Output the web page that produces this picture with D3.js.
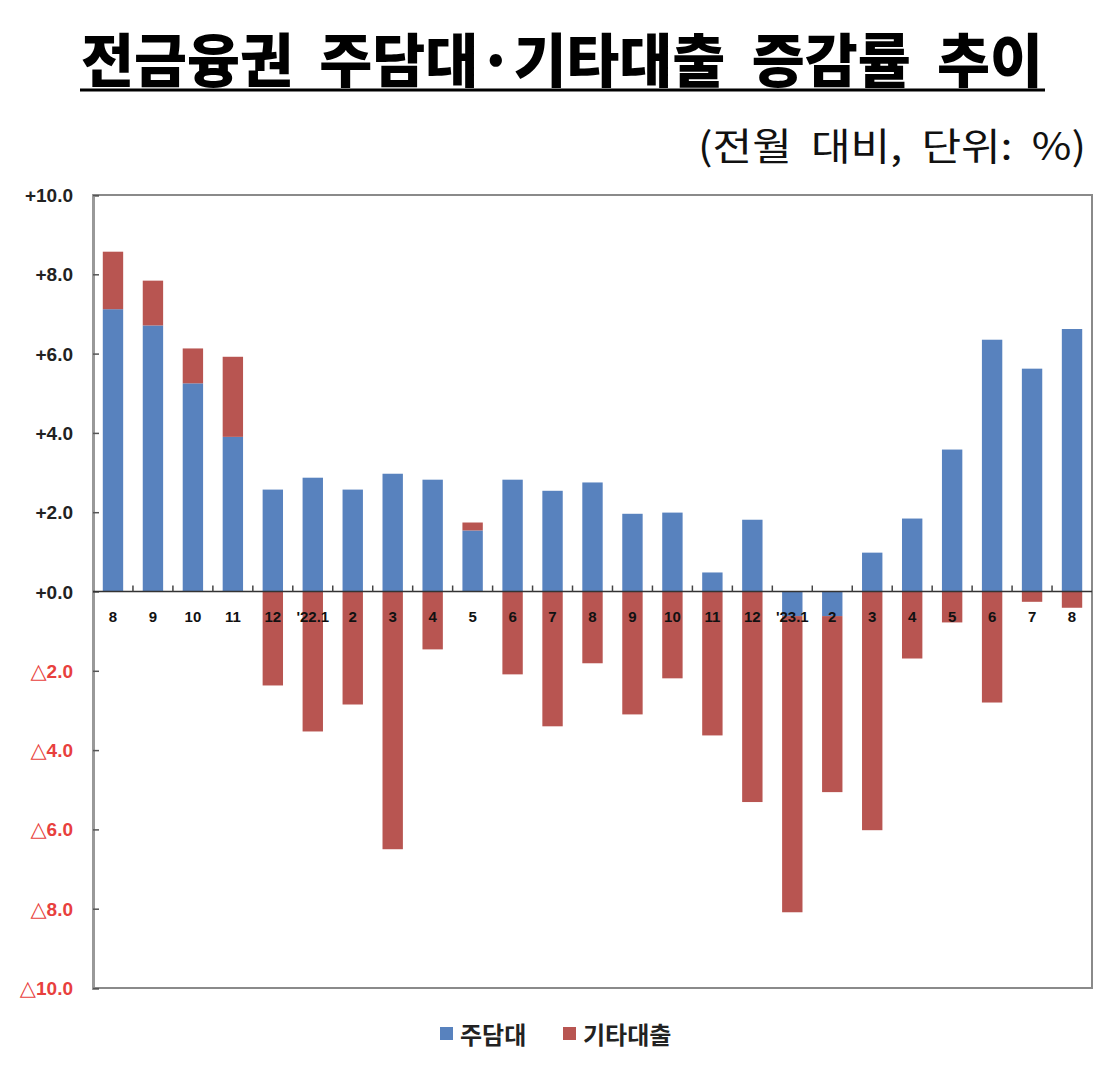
<!DOCTYPE html>
<html>
<head>
<meta charset="utf-8">
<script src="https://cdn.jsdelivr.net/npm/d3@7/dist/d3.min.js"></script>
<style>
  html, body { margin: 0; padding: 0; background: #fff; }
  svg { display: block; }
  .pre { white-space: pre; }
</style>
</head>
<body>
<svg id="chart" width="1120" height="1076"></svg>
<script>
// ---- data ----
const categories = ["8","9","10","11","12","'22.1","2","3","4","5","6","7","8","9","10","11","12","'23.1","2","3","4","5","6","7","8"];
const mortgage = [7.12, 6.71, 5.25, 3.90, 2.57, 2.87, 2.57, 2.97, 2.82, 1.54, 2.82, 2.54, 2.75, 1.96, 1.99, 0.48, 1.81, -0.62, -0.62, 0.98, 1.84, 3.58, 6.35, 5.62, 6.62];
const otherLoans = [1.45, 1.13, 0.88, 2.02, -2.37, -3.53, -2.85, -6.50, -1.46, 0.20, -2.09, -3.40, -1.81, -3.10, -2.19, -3.63, -5.31, -7.47, -4.44, -6.02, -1.69, -0.78, -2.80, -0.26, -0.41];
const seriesNames = ["주담대", "기타대출"];
const yTicks = [10, 8, 6, 4, 2, 0, -2, -4, -6, -8, -10];
const titleText = "전금융권  주담대·기타대출  증감률  추이";
const unitText = "(전월  대비,  단위:  %)";

const colors = ["#5882be", "#b85551"];

// ---- layout ----
const svg = d3.select("#chart");
const plot = { left: 93, right: 1092, top: 195, bottom: 988 };

const rows = categories.map((c, i) => ({ idx: i, cat: c, [seriesNames[0]]: mortgage[i], [seriesNames[1]]: otherLoans[i] }));

const x = d3.scaleBand().domain(d3.range(categories.length)).range([plot.left, plot.right]).paddingInner(0.49).paddingOuter(0.245);
const y = d3.scaleLinear().domain([-10, 10]).range([plot.bottom, plot.top]);

const stack = d3.stack().keys(seriesNames).offset(d3.stackOffsetDiverging);
const stacked = stack(rows);

// Title
svg.append("text")
  .attr("class", "pre")
  .attr("x", 562).attr("y", 82)
  .attr("text-anchor", "middle")
  .attr("font-family", "'Noto Sans CJK KR', sans-serif")
  .attr("font-weight", 900)
  .attr("font-size", 58)
  .attr("textLength", 962)
  .attr("lengthAdjust", "spacingAndGlyphs")
  .attr("fill", "#000")
  .text(titleText);
svg.append("line")
  .attr("x1", 80).attr("x2", 1045).attr("y1", 90).attr("y2", 90)
  .attr("stroke", "#000").attr("stroke-width", 3);

// Unit
svg.append("text")
  .attr("class", "pre")
  .attr("x", 1086).attr("y", 160)
  .attr("text-anchor", "end")
  .attr("font-family", "'Noto Sans CJK KR', sans-serif")
  .attr("font-size", 38)
  .attr("textLength", 388)
  .attr("lengthAdjust", "spacingAndGlyphs")
  .attr("fill", "#111")
  .text(unitText);

// Plot frame
svg.append("rect")
  .attr("x", plot.left).attr("y", plot.top)
  .attr("width", plot.right - plot.left).attr("height", plot.bottom - plot.top)
  .attr("fill", "none").attr("stroke", "#8a8a8a").attr("stroke-width", 2);

// Bars
svg.append("g").selectAll("g")
  .data(stacked)
  .join("g")
  .attr("fill", (d, i) => colors[i])
  .selectAll("rect")
  .data(d => d)
  .join("rect")
  .attr("x", d => x(d.data.idx))
  .attr("width", x.bandwidth())
  .attr("y", d => y(Math.max(d[0], d[1])))
  .attr("height", d => Math.abs(y(d[0]) - y(d[1])));

// Y axis (ticks pointing inward)
const yAxis = d3.axisRight(y).tickValues(yTicks).tickSize(6).tickFormat("");
const yg = svg.append("g").attr("transform", `translate(${plot.left},0)`).call(yAxis);
yg.select(".domain").attr("stroke", "#999").attr("stroke-width", 3);
yg.selectAll(".tick line").attr("stroke", "#555").attr("stroke-width", 1.5);

const yl = svg.append("g").selectAll("text")
  .data(yTicks)
  .join("text")
  .attr("x", 73)
  .attr("y", d => y(d) + 7)
  .attr("text-anchor", "end")
  .attr("font-family", "'Liberation Sans', Arial, sans-serif")
  .attr("font-weight", "bold")
  .attr("font-size", 19)
  .attr("fill", d => d < 0 ? "#e8403d" : "#222");
yl.each(function(d) {
  const t = d3.select(this);
  if (d < 0) {
    t.append("tspan").attr("font-family", "'DejaVu Sans', sans-serif").attr("font-weight", "normal").attr("font-size", 21).text("△");
    t.append("tspan").text(Math.abs(d).toFixed(1));
  } else {
    t.text("+" + d.toFixed(1));
  }
});

// X axis at zero with ticks at band boundaries pointing up
const step = x.step();
svg.append("line")
  .attr("x1", plot.left).attr("x2", plot.right)
  .attr("y1", y(0)).attr("y2", y(0))
  .attr("stroke", "#333").attr("stroke-width", 1.5);
svg.append("g").selectAll("line")
  .data(d3.range(1, categories.length))
  .join("line")
  .attr("x1", i => x(i) - (step - x.bandwidth()) / 2)
  .attr("x2", i => x(i) - (step - x.bandwidth()) / 2)
  .attr("y1", y(0)).attr("y2", y(0) - 6)
  .attr("stroke", "#444").attr("stroke-width", 1.5);

// X labels
svg.append("g").selectAll("text")
  .data(rows)
  .join("text")
  .attr("x", d => x(d.idx) + x.bandwidth() / 2)
  .attr("y", y(0) + 30)
  .attr("text-anchor", "middle")
  .attr("font-family", "'Liberation Sans', Arial, sans-serif")
  .attr("font-weight", "bold")
  .attr("font-size", 15)
  .attr("fill", "#111")
  .text(d => d.cat);

// Legend
const legend = svg.append("g");
const legendItems = [
  { name: seriesNames[0], color: colors[0], x: 440 },
  { name: seriesNames[1], color: colors[1], x: 563 }
];
legendItems.forEach(it => {
  legend.append("rect").attr("x", it.x).attr("y", 1027).attr("width", 13).attr("height", 13).attr("fill", it.color);
  legend.append("text")
    .attr("x", it.x + 20).attr("y", 1044)
    .attr("font-family", "'Noto Sans CJK KR', sans-serif")
    .attr("font-weight", "bold")
    .attr("font-size", 24)
    .attr("fill", "#222")
    .text(it.name);
});
</script>
</body>
</html>
